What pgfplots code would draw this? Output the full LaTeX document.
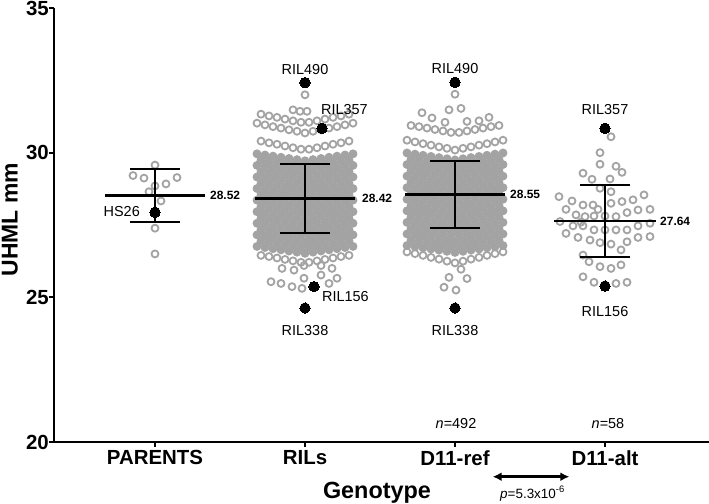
\documentclass[border=0pt]{standalone}
\usepackage{pgfplots}
\pgfplotsset{compat=1.18}
\usepackage{fontspec}
\setmainfont{Liberation Sans}
\usetikzlibrary{arrows.meta}
\definecolor{ptgray}{RGB}{163,163,163}
\begin{document}
\begin{tikzpicture}
\begin{axis}[name=ax, set layers, clip marker paths=true, scale only axis, width=655bp, height=434bp,
  xmin=49, xmax=704, ymin=20, ymax=35, clip=false,
  axis x line*=bottom, axis y line*=left,
  axis line style={line width=1.8bp, -},
  xtick={150,300,450,600}, xticklabels={PARENTS,RILs,D11-ref,D11-alt},
  ytick={20,25,30,35}, yticklabels={20,25,30,35},
  tick style={line width=1.8bp, black}, tick align=outside, major tick length=5bp,
  ticklabel style={font=\fontsize{20.5}{24}\selectfont\bfseries},
  yticklabel style={inner sep=0pt},
  ylabel={UHML mm},
  ylabel style={font=\fontsize{23}{26}\selectfont\bfseries, at={(axis description cs:-0.055,0.512)}, anchor=south, inner sep=0pt},
  xlabel={Genotype},
  xlabel style={font=\fontsize{23.5}{26}\selectfont\bfseries, at={(axis cs:372,18.06)}, anchor=base, inner sep=0pt},
]
% ---- dense cores (filled) ----
\addplot[only marks, mark=*, mark size=3.6bp, mark options={draw=ptgray, fill=ptgray, line width=1.6bp}] coordinates {
(252,29.96)(260,29.92)(268,29.88)(276,29.84)(284,29.80)(292,29.76)(300,29.72)(308,29.76)(316,29.80)(324,29.84)(332,29.88)(340,29.92)(348,29.96)
(256,29.74)(264,29.70)(272,29.66)(280,29.62)(288,29.58)(296,29.54)(304,29.54)(312,29.58)(320,29.62)(328,29.66)(336,29.70)(344,29.74)
(252,29.56)(260,29.52)(268,29.48)(276,29.44)(284,29.40)(292,29.36)(300,29.32)(308,29.36)(316,29.40)(324,29.44)(332,29.48)(340,29.52)(348,29.56)
(256,29.34)(264,29.30)(272,29.26)(280,29.22)(288,29.18)(296,29.14)(304,29.14)(312,29.18)(320,29.22)(328,29.26)(336,29.30)(344,29.34)
(252,29.16)(260,29.12)(268,29.08)(276,29.04)(284,29.00)(292,28.96)(300,28.92)(308,28.96)(316,29.00)(324,29.04)(332,29.08)(340,29.12)(348,29.16)
(256,28.94)(264,28.90)(272,28.86)(280,28.82)(288,28.78)(296,28.74)(304,28.74)(312,28.78)(320,28.82)(328,28.86)(336,28.90)(344,28.94)
(252,28.76)(260,28.72)(268,28.68)(276,28.64)(284,28.60)(292,28.56)(300,28.52)(308,28.56)(316,28.60)(324,28.64)(332,28.68)(340,28.72)(348,28.76)
(256,28.54)(264,28.50)(272,28.46)(280,28.42)(288,28.38)(296,28.34)(304,28.34)(312,28.38)(320,28.42)(328,28.46)(336,28.50)(344,28.54)
(252,28.36)(260,28.32)(268,28.28)(276,28.24)(284,28.20)(292,28.16)(300,28.12)(308,28.16)(316,28.20)(324,28.24)(332,28.28)(340,28.32)(348,28.36)
(256,28.14)(264,28.10)(272,28.06)(280,28.02)(288,27.98)(296,27.94)(304,27.94)(312,27.98)(320,28.02)(328,28.06)(336,28.10)(344,28.14)
(252,27.96)(260,27.92)(268,27.88)(276,27.84)(284,27.80)(292,27.76)(300,27.72)(308,27.76)(316,27.80)(324,27.84)(332,27.88)(340,27.92)(348,27.96)
(256,27.74)(264,27.70)(272,27.66)(280,27.62)(288,27.58)(296,27.54)(304,27.54)(312,27.58)(320,27.62)(328,27.66)(336,27.70)(344,27.74)
(252,27.56)(260,27.52)(268,27.48)(276,27.44)(284,27.40)(292,27.36)(300,27.32)(308,27.36)(316,27.40)(324,27.44)(332,27.48)(340,27.52)(348,27.56)
(256,27.34)(264,27.30)(272,27.26)(280,27.22)(288,27.18)(296,27.14)(304,27.14)(312,27.18)(320,27.22)(328,27.26)(336,27.30)(344,27.34)
(252,27.16)(260,27.12)(268,27.08)(276,27.04)(284,27.00)(292,26.96)(300,26.92)(308,26.96)(316,27.00)(324,27.04)(332,27.08)(340,27.12)(348,27.16)
(256,26.94)(264,26.90)(272,26.86)(280,26.82)(288,26.78)(296,26.74)(304,26.74)(312,26.78)(320,26.82)(328,26.86)(336,26.90)(344,26.94)
(252,26.76)(260,26.72)(268,26.68)(276,26.64)(284,26.60)(292,26.56)(300,26.52)(308,26.56)(316,26.60)(324,26.64)(332,26.68)(340,26.72)(348,26.76)
(402,29.99)(410,29.95)(418,29.91)(426,29.87)(434,29.83)(442,29.79)(450,29.75)(458,29.79)(466,29.83)(474,29.87)(482,29.91)(490,29.95)(498,29.99)
(406,29.77)(414,29.73)(422,29.69)(430,29.65)(438,29.61)(446,29.57)(454,29.57)(462,29.61)(470,29.65)(478,29.69)(486,29.73)(494,29.77)
(402,29.59)(410,29.55)(418,29.51)(426,29.47)(434,29.43)(442,29.39)(450,29.35)(458,29.39)(466,29.43)(474,29.47)(482,29.51)(490,29.55)(498,29.59)
(406,29.37)(414,29.33)(422,29.29)(430,29.25)(438,29.21)(446,29.17)(454,29.17)(462,29.21)(470,29.25)(478,29.29)(486,29.33)(494,29.37)
(402,29.19)(410,29.15)(418,29.11)(426,29.07)(434,29.03)(442,28.99)(450,28.95)(458,28.99)(466,29.03)(474,29.07)(482,29.11)(490,29.15)(498,29.19)
(406,28.97)(414,28.93)(422,28.89)(430,28.85)(438,28.81)(446,28.77)(454,28.77)(462,28.81)(470,28.85)(478,28.89)(486,28.93)(494,28.97)
(402,28.79)(410,28.75)(418,28.71)(426,28.67)(434,28.63)(442,28.59)(450,28.55)(458,28.59)(466,28.63)(474,28.67)(482,28.71)(490,28.75)(498,28.79)
(406,28.57)(414,28.53)(422,28.49)(430,28.45)(438,28.41)(446,28.37)(454,28.37)(462,28.41)(470,28.45)(478,28.49)(486,28.53)(494,28.57)
(402,28.39)(410,28.35)(418,28.31)(426,28.27)(434,28.23)(442,28.19)(450,28.15)(458,28.19)(466,28.23)(474,28.27)(482,28.31)(490,28.35)(498,28.39)
(406,28.17)(414,28.13)(422,28.09)(430,28.05)(438,28.01)(446,27.97)(454,27.97)(462,28.01)(470,28.05)(478,28.09)(486,28.13)(494,28.17)
(402,27.99)(410,27.95)(418,27.91)(426,27.87)(434,27.83)(442,27.79)(450,27.75)(458,27.79)(466,27.83)(474,27.87)(482,27.91)(490,27.95)(498,27.99)
(406,27.77)(414,27.73)(422,27.69)(430,27.65)(438,27.61)(446,27.57)(454,27.57)(462,27.61)(470,27.65)(478,27.69)(486,27.73)(494,27.77)
(402,27.59)(410,27.55)(418,27.51)(426,27.47)(434,27.43)(442,27.39)(450,27.35)(458,27.39)(466,27.43)(474,27.47)(482,27.51)(490,27.55)(498,27.59)
(406,27.37)(414,27.33)(422,27.29)(430,27.25)(438,27.21)(446,27.17)(454,27.17)(462,27.21)(470,27.25)(478,27.29)(486,27.33)(494,27.37)
(402,27.19)(410,27.15)(418,27.11)(426,27.07)(434,27.03)(442,26.99)(450,26.95)(458,26.99)(466,27.03)(474,27.07)(482,27.11)(490,27.15)(498,27.19)
(406,26.97)(414,26.93)(422,26.89)(430,26.85)(438,26.81)(446,26.77)(454,26.77)(462,26.81)(470,26.85)(478,26.89)(486,26.93)(494,26.97)
(402,26.79)(410,26.75)(418,26.71)(426,26.67)(434,26.63)(442,26.59)(450,26.55)(458,26.59)(466,26.63)(474,26.67)(482,26.71)(490,26.75)(498,26.79)
};
% ---- open circles ----
\addplot[only marks, mark=o, mark size=3.5bp, mark options={draw=ptgray, line width=1.8bp}] coordinates {
(150,29.57)(128,29.21)(139,29.12)(172,29.14)(161,28.92)(150,28.85)(144,28.65)(156,28.33)(150,27.39)(150,26.50)
(256,31.33)(264,31.27)(272,31.22)(280,31.16)(288,31.10)(296,31.05)(304,31.05)(312,31.10)(320,31.16)(328,31.22)(336,31.27)(344,31.33)
(252,31.02)(260,30.96)(268,30.90)(276,30.85)(284,30.79)(292,30.74)(300,30.68)(308,30.74)(316,30.79)(324,30.85)(332,30.90)(340,30.96)(348,31.02)
(256,30.40)(264,30.34)(272,30.29)(280,30.23)(288,30.17)(296,30.12)(304,30.12)(312,30.17)(320,30.23)(328,30.29)(336,30.34)(344,30.40)
(256,26.45)(264,26.41)(272,26.36)(280,26.31)(288,26.26)(296,26.21)(304,26.21)(312,26.26)(320,26.31)(328,26.36)(336,26.41)(344,26.45)
(288,31.48)(295,31.43)(302,31.43)(300,32.00)(277,26.00)(289,25.94)(299,26.10)(316,26.10)(327,26.00)
(266,25.54)(276,25.48)(287,25.37)(297,25.31)(299,25.66)(316,25.77)(324,25.48)(332,25.66)
(406,30.94)(414,30.90)(422,30.85)(430,30.80)(438,30.75)(446,30.70)(454,30.70)(462,30.75)(470,30.80)(478,30.85)(486,30.90)(494,30.94)
(402,30.43)(410,30.37)(418,30.31)(426,30.26)(434,30.20)(442,30.15)(450,30.09)(458,30.15)(466,30.20)(474,30.26)(482,30.31)(490,30.37)(498,30.43)
(402,26.57)(410,26.51)(418,26.45)(426,26.38)(434,26.32)(442,26.25)(450,26.19)(458,26.25)(466,26.32)(474,26.38)(482,26.45)(490,26.51)(498,26.57)
(450,32.02)(444,31.48)(456,31.53)(417,31.38)(427,31.20)(440,31.05)(462,31.08)(474,31.10)(484,31.22)
(456,25.97)(444,25.69)(462,25.65)(439,25.35)(451,25.25)
(606,30.55)(595,30.00)(595,29.60)(578,29.29)(611,29.53)(617,29.32)(587,29.08)(605,29.09)(595,28.77)(606,28.65)
(554,28.48)(567,28.33)(578,28.19)(588,28.19)(606,28.25)(617,28.31)(628,28.37)(639,28.54)(561,28.04)(593,28.04)
(633,28.02)(645,28.04)(571,27.85)(580,27.79)(589,27.81)(600,27.81)(611,27.79)(622,27.93)(555,27.62)(568,27.47)
(578,27.47)(589,27.33)(600,27.33)(611,27.33)(622,27.33)(633,27.47)(645,27.56)(561,27.21)(573,27.07)(585,26.98)
(595,26.89)(606,26.84)(622,26.92)(633,27.07)(645,27.10)(616,26.64)(578,26.46)(584,26.23)(595,26.06)(606,26.00)
(616,26.12)(578,25.71)(589,25.52)(611,25.48)(622,25.52)(576,27.60)
};
% ---- means and SD bars ----
\pgfplotsset{mybar/.style={black, line width=1.8bp, on layer=axis foreground}, mymean/.style={black, line width=2.6bp, on layer=axis foreground}}
\addplot[mymean] coordinates {(100,28.52) (200,28.52)};
\addplot[mymean] coordinates {(250,28.42) (350,28.42)};
\addplot[mymean] coordinates {(400,28.55) (500,28.55)};
\addplot[mymean] coordinates {(549,27.64) (651,27.64)};
\addplot[mybar] coordinates {(125,29.43) (175,29.43)};
\addplot[mybar] coordinates {(125,27.61) (175,27.61)};
\addplot[mybar] coordinates {(150,27.61) (150,29.43)};
\addplot[mybar] coordinates {(275,29.61) (325,29.61)};
\addplot[mybar] coordinates {(275,27.23) (325,27.23)};
\addplot[mybar] coordinates {(300,27.23) (300,29.61)};
\addplot[mybar] coordinates {(425,29.70) (475,29.70)};
\addplot[mybar] coordinates {(425,27.40) (475,27.40)};
\addplot[mybar] coordinates {(450,27.40) (450,29.70)};
\addplot[mybar] coordinates {(575,28.88) (625,28.88)};
\addplot[mybar] coordinates {(575,26.40) (625,26.40)};
\addplot[mybar] coordinates {(600,26.40) (600,28.88)};
% ---- highlighted lines ----
\addplot[only marks, on layer=axis foreground, mark=*, mark size=5.2bp, mark options={draw=black, fill=black, line width=0pt}] coordinates {
(150,27.94)(300,32.42)(317,30.84)(309,25.37)(300,24.63)(450,32.43)(450,24.63)(600,30.84)(600,25.39)
};
% ---- labels ----
\begin{scope}[every node/.style={inner sep=0pt, font=\fontsize{12}{14}\selectfont\bfseries}]
\node[anchor=west] at (axis cs:205,28.52) {28.52};
\node[anchor=west] at (axis cs:357,28.42) {28.42};
\node[anchor=west] at (axis cs:505,28.55) {28.55};
\node[anchor=west] at (axis cs:655,27.64) {27.64};
\end{scope}
\begin{scope}[every node/.style={inner sep=0pt, font=\fontsize{14.5}{17}\selectfont}]
\node[anchor=east] at (axis cs:135,27.95) {HS26};
\node at (axis cs:300,32.88) {RIL490};
\node[anchor=west] at (axis cs:316,31.50) {RIL357};
\node[anchor=west] at (axis cs:317,25.02) {RIL156};
\node at (axis cs:300,23.87) {RIL338};
\node at (axis cs:450,32.90) {RIL490};
\node at (axis cs:450,23.87) {RIL338};
\node at (axis cs:600,31.48) {RIL357};
\node at (axis cs:600,24.50) {RIL156};
\node[anchor=base] at (axis cs:451,20.47) {\textit{n}=492};
\node[anchor=base] at (axis cs:603,20.47) {\textit{n}=58};
\end{scope}
\coordinate (arL) at (axis cs:487.7,18.80);
\coordinate (arR) at (axis cs:564.3,18.80);
\node[anchor=base, inner sep=0pt, font=\fontsize{13.5}{16}\selectfont] at (axis cs:527.5,18.06) {\textit{p}=5.3x10\textsuperscript{-6}};
\end{axis}
\draw[line width=2.8bp, {Latex[length=9bp,width=9bp]}-{Latex[length=9bp,width=9bp]}] (arL) -- (arR);
\pgfresetboundingbox
\path ([shift={(-54bp,-62bp)}]ax.south west) rectangle ([shift={(0bp,8bp)}]ax.north east);
\end{tikzpicture}
\end{document}
